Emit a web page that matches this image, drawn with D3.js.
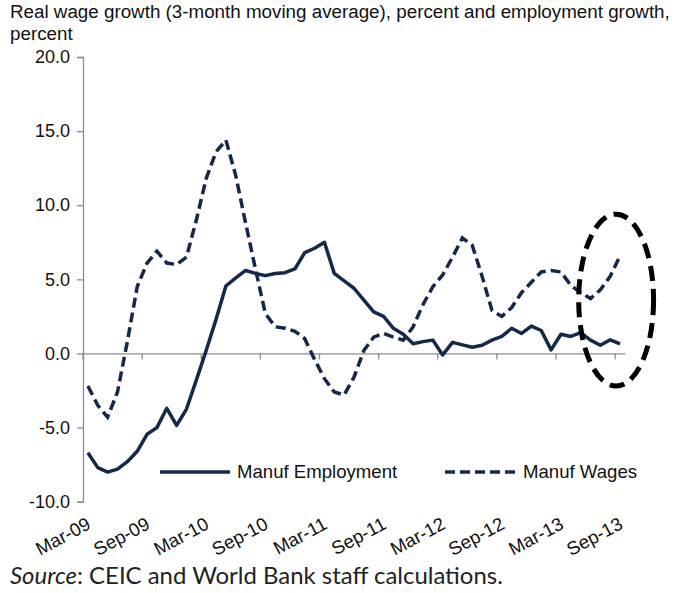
<!DOCTYPE html>
<html lang="en">
<head>
  <meta charset="UTF-8" />
  <title>Manufacturing wages and employment</title>
  <script src="https://cdn.jsdelivr.net/npm/d3@7"></script>
  <style>
    body {
      margin: 0;
      background: #fff;
    }

    svg {
      display: block;
      font-family: "Liberation Sans", Arial, sans-serif;
    }

    .axis path,
    .axis line {
      stroke: #8c8c8c;
      stroke-width: 1.3px;
    }

    .axis text {
      font-size: 18px;
      fill: #111;
    }
  </style>
</head>
<body>
  <div id="chart"></div>

  <script>
    const months = [
      "Mar-09", "Apr-09", "May-09", "Jun-09", "Jul-09", "Aug-09", "Sep-09", "Oct-09", "Nov-09", "Dec-09",
      "Jan-10", "Feb-10", "Mar-10", "Apr-10", "May-10", "Jun-10", "Jul-10", "Aug-10", "Sep-10", "Oct-10",
      "Nov-10", "Dec-10", "Jan-11", "Feb-11", "Mar-11", "Apr-11", "May-11", "Jun-11", "Jul-11", "Aug-11",
      "Sep-11", "Oct-11", "Nov-11", "Dec-11", "Jan-12", "Feb-12", "Mar-12", "Apr-12", "May-12", "Jun-12",
      "Jul-12", "Aug-12", "Sep-12", "Oct-12", "Nov-12", "Dec-12", "Jan-13", "Feb-13", "Mar-13", "Apr-13",
      "May-13", "Jun-13", "Jul-13", "Aug-13", "Sep-13"
    ];

    const employment = [
      -6.7, -7.7, -8.0, -7.8, -7.3, -6.6, -5.45, -5.0, -3.7, -4.85,
      -3.75, -1.8, 0.2, 2.3, 4.55, 5.1, 5.6, 5.4, 5.25, 5.4,
      5.45, 5.7, 6.8, 7.1, 7.5, 5.4, 4.9, 4.4, 3.6, 2.8,
      2.5, 1.7, 1.3, 0.65, 0.8, 0.9, -0.1, 0.75, 0.58, 0.42,
      0.55, 0.9, 1.15, 1.7, 1.35, 1.85, 1.55, 0.24, 1.3, 1.15,
      1.4, 0.9, 0.55, 0.92, 0.65
    ];

    const wages = [
      -2.2, -3.5, -4.3, -2.6, 0.8, 4.5, 6.1, 6.9, 6.1, 6.0,
      6.5, 9.0, 11.8, 13.6, 14.4, 12.0, 8.8, 5.7, 2.7, 1.8,
      1.7, 1.5, 1.0, -0.4, -1.7, -2.6, -2.8, -1.6, 0.2, 1.1,
      1.35, 1.1, 0.9, 1.8, 3.3, 4.5, 5.3, 6.5, 7.8, 7.3,
      5.2, 2.9, 2.5, 3.1, 4.1, 4.8, 5.5, 5.6, 5.5, 4.6,
      4.1, 3.7, 4.3, 5.2, 6.6
    ];

    const tickLabels = ["Mar-09", "Sep-09", "Mar-10", "Sep-10", "Mar-11", "Sep-11", "Mar-12", "Sep-12", "Mar-13", "Sep-13"];
    const yTicks = [-10, -5, 0, 5, 10, 15, 20];

    // circled area at the end of the series (category index / percent units)
    const highlight = { from: 50.3, to: 57.9, top: 9.4, bottom: -2.2 };

    const width = 682;
    const height = 593;
    const navy = "#14284a";

    const svg = d3.select("#chart")
      .append("svg")
      .attr("width", width)
      .attr("height", height);

    const x = d3.scaleBand()
      .domain(months)
      .range([83, 625]);

    const bw = x.bandwidth();
    const idx = d3.scaleLinear().domain([0, months.length]).range(x.range());

    const y = d3.scaleLinear()
      .domain([-10, 20])
      .range([501.7, 57]);

    // Title
    const title = svg.append("text")
      .attr("x", 10)
      .attr("y", 18)
      .attr("font-size", 18.8)
      .attr("fill", "#111");
    title.append("tspan").text("Real wage growth (3-month moving average), percent and employment growth,");
    title.append("tspan").attr("x", 10).attr("dy", 22).text("percent");

    // Y axis
    svg.append("g")
      .attr("class", "axis")
      .attr("transform", "translate(83,0)")
      .call(d3.axisLeft(y)
        .tickValues(yTicks)
        .tickFormat(d => d.toFixed(1))
        .tickSize(6)
        .tickSizeOuter(6)
        .tickPadding(7));

    // X axis on the zero line, ticks between categories
    const xAxis = svg.append("g")
      .attr("class", "axis")
      .attr("transform", `translate(0,${y(0)})`)
      .call(d3.axisBottom(x)
        .tickValues(tickLabels)
        .tickFormat("")
        .tickSize(6)
        .tickSizeOuter(0));
    xAxis.selectAll(".tick").attr("transform", d => `translate(${x(d)},0)`);

    // X labels, rotated, at the bottom
    svg.append("g")
      .selectAll("text")
      .data(tickLabels)
      .enter()
      .append("text")
      .attr("transform", d => `translate(${x(d) + bw / 2 + 4},528) rotate(-28)`)
      .attr("text-anchor", "end")
      .attr("font-size", 18.6)
      .attr("fill", "#111")
      .text(d => d);

    const line = d3.line()
      .x((d, i) => x(months[i]) + bw / 2)
      .y(d => y(d));

    svg.append("path")
      .datum(employment)
      .attr("fill", "none")
      .attr("stroke", navy)
      .attr("stroke-width", 3.5)
      .attr("stroke-linejoin", "round")
      .attr("d", line);

    svg.append("path")
      .datum(wages)
      .attr("fill", "none")
      .attr("stroke", navy)
      .attr("stroke-width", 3.5)
      .attr("stroke-dasharray", "10,5")
      .attr("d", line);

    // Highlight ellipse
    svg.append("ellipse")
      .attr("cx", (idx(highlight.from) + idx(highlight.to)) / 2)
      .attr("cy", (y(highlight.top) + y(highlight.bottom)) / 2)
      .attr("rx", (idx(highlight.to) - idx(highlight.from)) / 2)
      .attr("ry", (y(highlight.bottom) - y(highlight.top)) / 2)
      .attr("fill", "none")
      .attr("stroke", "#000")
      .attr("stroke-width", 5)
      .attr("stroke-dasharray", "15,8");

    // Legend
    const legend = svg.append("g")
      .attr("transform", "translate(160,472)");

    legend.append("line")
      .attr("x1", 0).attr("x2", 70)
      .attr("stroke", navy)
      .attr("stroke-width", 3.5);

    legend.append("text")
      .attr("x", 77)
      .attr("y", 6)
      .attr("font-size", 18.6)
      .attr("fill", "#111")
      .text("Manuf Employment");

    legend.append("line")
      .attr("x1", 285).attr("x2", 357)
      .attr("stroke", navy)
      .attr("stroke-width", 3.5)
      .attr("stroke-dasharray", "10,5");

    legend.append("text")
      .attr("x", 363)
      .attr("y", 6)
      .attr("font-size", 18.6)
      .attr("fill", "#111")
      .text("Manuf Wages");

    // Source note
    const source = svg.append("text")
      .attr("x", 10)
      .attr("y", 584)
      .attr("font-family", "Lato, 'DejaVu Sans', sans-serif")
      .attr("font-size", 20)
      .attr("fill", "#222");
    source.append("tspan").attr("font-style", "italic").text("Source");
    source.append("tspan").text(": CEIC and World Bank staff calculations.");

    const srcLen = source.node().getComputedTextLength();
    source.attr("font-size", 20 * 493 / srcLen);
  </script>
</body>
</html>
